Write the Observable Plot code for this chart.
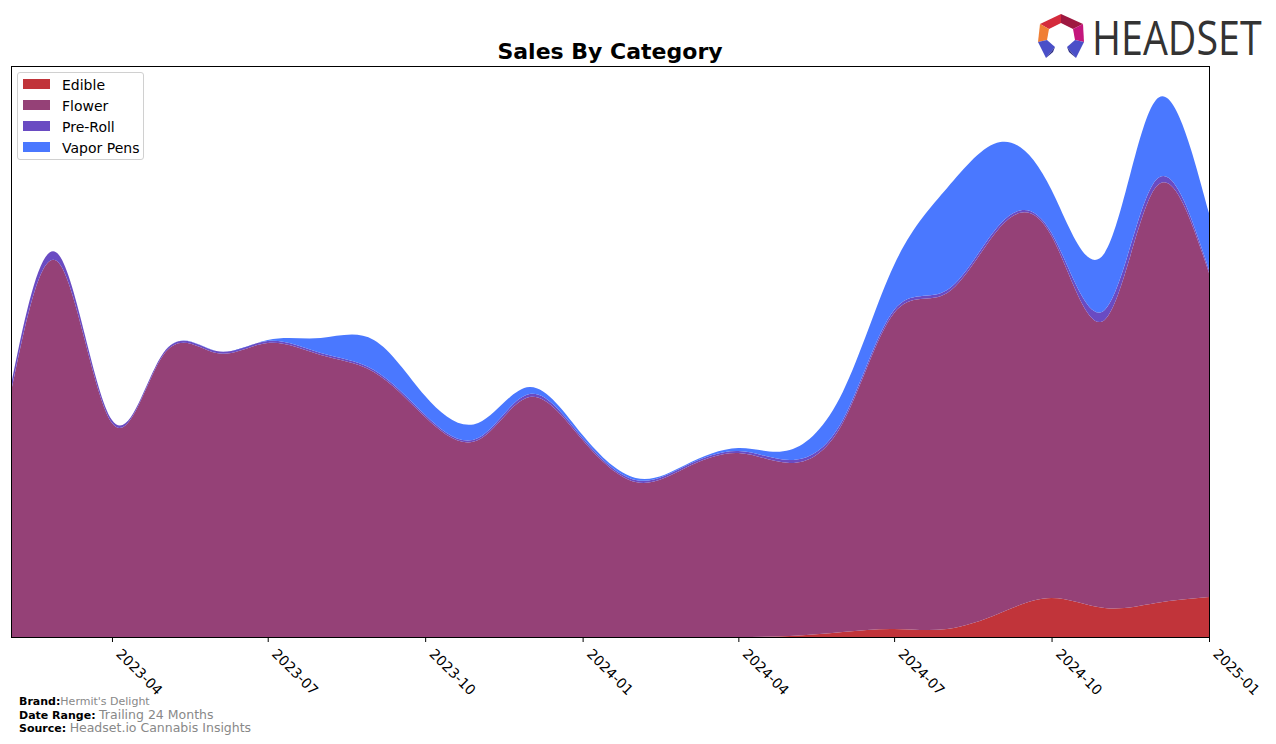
<!DOCTYPE html>
<html>
<head>
<meta charset="utf-8">
<script src="https://cdn.jsdelivr.net/npm/d3@7"></script>
<script src="https://cdn.jsdelivr.net/npm/@observablehq/plot@0.6"></script>
<style>
  html, body { margin: 0; padding: 0; background: #fff; }
  body { width: 1276px; height: 744px; position: relative; overflow: hidden; font-family: "DejaVu Sans", sans-serif; }
  #chart { position: absolute; left: 0; top: 0; }
  #title { position: absolute; left: 11px; width: 1198px; top: 38px; text-align: center; font-weight: bold; font-size: 22px; line-height: 28px; color: #000; }
  #legend { position: absolute; left: 17px; top: 72px; width: 125px; height: 86px; border: 1px solid #d0d0d0; border-radius: 3px; background: rgba(255,255,255,0.85); }
  .li { position: absolute; left: 5px; height: 21px; font-size: 14px; line-height: 21px; color: #000; }
  .sw { display: inline-block; width: 27px; height: 10px; vertical-align: middle; margin-right: 12px; position: relative; top: -2px; }
  #footer { position: absolute; left: 19px; top: 696px; font-size: 11px; line-height: 12.5px; color: #000; }
  #footer b { font-weight: bold; }
  #footer .g { color: #888; }
  #logo { position: absolute; left: 1030px; top: 0px; }
</style>
</head>
<body>
<div id="chart"></div>
<div id="title">Sales By Category</div>
<div id="legend"></div>
<div id="footer">
  <div><b>Brand:</b><span class="g">Hermit's Delight</span></div>
  <div><b>Date Range:</b> <span class="g" style="font-size:12.5px">Trailing 24 Months</span></div>
  <div><b>Source:</b> <span class="g" style="font-size:12.5px">Headset.io Cannabis Insights</span></div>
</div>
<svg id="logo" width="246" height="72" viewBox="1030 0 246 72">
  <polygon points="1040,24 1061,14 1061,23 1049,29" fill="#d42a3c"/>
  <polygon points="1061,14 1083,24 1073,29 1061,23" fill="#9e1840"/>
  <polygon points="1040,24 1049,29 1047,40 1038,42" fill="#f07f35"/>
  <polygon points="1083,24 1073,29 1075,40 1084,42" fill="#c4167c"/>
  <polygon points="1038,42 1047,40 1055,47 1046,58" fill="#4a4fc8"/>
  <polygon points="1046,58 1055,47 1053,52" fill="#2b2c86"/>
  <polygon points="1084,42 1075,40 1067,47 1076,58" fill="#4a4fc8"/>
  <polygon points="1076,58 1067,47 1069,52" fill="#2b2c86"/>
  <text transform="translate(1092,55) scale(1,1.22)" font-family="Open Sans, DejaVu Sans, sans-serif" font-size="39.4" fill="#333">HEADSET</text>
</svg>
<script>
const categories = ["Edible", "Flower", "Pre-Roll", "Vapor Pens"];
const colors = ["#c1343a", "#954177", "#6a4bc2", "#4a78ff"];
const months = ["2023-02","2023-03","2023-04","2023-05","2023-06","2023-07","2023-08","2023-09","2023-10","2023-11","2023-12",
  "2024-01","2024-02","2024-03","2024-04","2024-05","2024-06","2024-07","2024-08","2024-09","2024-10","2024-11","2024-12","2025-01"];
const edible  = [0,0,0,0,0,0,0,0,0,0,0,0,0,0,0,1,5,8,8,24,39,29,34,40];
const flower  = [244,374,214,282,284,294,282,265,220,197,240,197,155,169,184,173,209,316,336,386,362,288,416,324];
const preRoll = [8,8,3,2,2,2,2,2,2,2,3,2,2,2,2,3,3,3,3,3,3,10,7,3];
const vapor   = [0,0,0,0,0,1,15,30,19,15,7,3,2,1,3,10,28,45,102,82,43,57,80,57];
const tickLabels = ["2023-04","2023-07","2023-10","2024-01","2024-04","2024-07","2024-10","2025-01"];

const parse = d3.utcParse("%Y-%m");
const series = [edible, flower, preRoll, vapor];
const rows = [];
months.forEach((m, i) => {
  categories.forEach((c, k) => rows.push({date: parse(m), category: c, value: series[k][i]}));
});
const ticks = tickLabels.map(parse);

const plot = Plot.plot({
  width: 1276,
  height: 744,
  marginLeft: 11,
  marginRight: 67,
  marginTop: 66,
  marginBottom: 107,
  style: {fontFamily: "DejaVu Sans, sans-serif", fontSize: "14px", color: "#000", background: "transparent"},
  x: {type: "utc", domain: [parse("2023-02"), parse("2025-01")]},
  y: {domain: [0, 571], axis: null},
  color: {domain: categories, range: colors},
  marks: [
    Plot.areaY(rows, {x: "date", y: "value", fill: "category", z: "category", order: categories, curve: "natural", clip: true}),
    Plot.frame({stroke: "#000", strokeWidth: 1}),
    Plot.axisX({ticks, tickFormat: () => "", tickSize: 5, stroke: "#000", label: null}),
    Plot.axisX({ticks, tickFormat: d3.utcFormat("%Y-%m"), tickRotate: 45, tickSize: 0, tickPadding: 14, dx: 6, fontSize: 14, fill: "#000", label: null})
  ]
});
document.getElementById("chart").appendChild(plot);

const legend = document.getElementById("legend");
categories.forEach((c, k) => {
  const d = document.createElement("div");
  d.className = "li";
  d.style.top = (2 + k * 21) + "px";
  d.innerHTML = `<span class="sw" style="background:${colors[k]}"></span>${c}`;
  legend.appendChild(d);
});
</script>
</body>
</html>
